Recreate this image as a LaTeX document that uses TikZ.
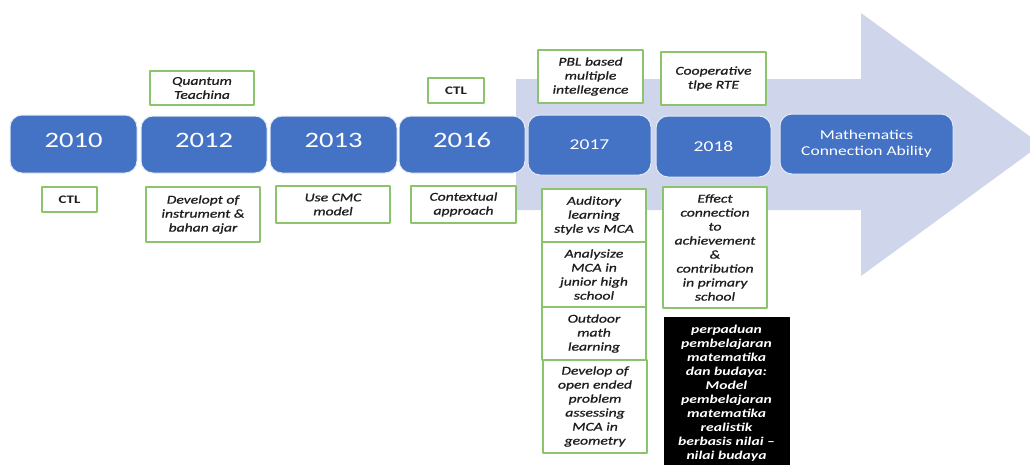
\documentclass[tikz,border=0pt]{standalone}
\usepackage{fontspec}
\setmainfont{Carlito}[FakeStretch=1.3]
\newfontfamily\notefont{Carlito}[FakeStretch=1.3, FakeBold=0.9]
\usepackage{xcolor}
\usetikzlibrary{calc}

\definecolor{yearblue}{RGB}{68,114,196}
\definecolor{arrowgrey}{RGB}{207,213,234}
\definecolor{notegreen}{RGB}{140,196,110}
\definecolor{notetext}{RGB}{30,30,30}

\begin{document}
\begin{tikzpicture}[x=1pt, y=-1pt, line join=round,
	yearbox/.style={fill=yearblue, draw=white!85!yearblue, line width=1pt, rounded corners=12pt,
		text=white, align=center, inner sep=0pt},
	bigyear/.style={yearbox, font=\fontsize{22}{24}\selectfont, text depth=8pt},
	notebox/.style={fill=white, draw=notegreen, line width=1.4pt, align=center, inner sep=0pt,
		text=notetext, font=\notefont\itshape\fontsize{12}{14}\selectfont},
	darkbox/.style={fill=black, draw=black, align=center, inner sep=0pt,
		text=white, font=\bfseries\itshape\fontsize{12}{14}\selectfont}]
	\useasboundingbox (0,0) rectangle (1030,464);
	
	% big arrow behind the years
	\coordinate (P1) at (516,79);
	\coordinate (P2) at (861,79);
	\coordinate (P3) at (861,13);
	\coordinate (P4) at (1041,144.5);
	\coordinate (P5) at (861,276);
	\coordinate (P6) at (861,210);
	\coordinate (P7) at (516,210);
	\fill[arrowgrey] (P1)--(P2)--(P3)--(P4)--(P5)--(P6)--(P7)--cycle;
	
	% years
	\node[bigyear, minimum width=127pt, minimum height=58pt] (y10) at (73.5,144) {2010};
	\node[bigyear, minimum width=126pt, minimum height=57pt] (y12) at (204,144.5) {2012};
	\node[bigyear, minimum width=127pt, minimum height=57pt] (y13) at (333.5,144.5) {2013};
	\node[bigyear, minimum width=126pt, minimum height=57pt] (y16) at (462,144.5) {2016};
	\node[yearbox, minimum width=123pt, minimum height=60pt, font=\fontsize{15}{17}\selectfont] (y17) at (589.5,145) {2017};
	\node[yearbox, minimum width=115pt, minimum height=61pt, font=\fontsize{15}{17}\selectfont] (y18) at (713.5,146.5) {2018};
	\node[yearbox, minimum width=173pt, minimum height=60pt, font=\fontsize{13.5}{15.5}\selectfont] (mca) at (866.5,144) {Mathematics\\Connection Ability};
	
	% notes above
	\node[notebox, minimum width=104pt, minimum height=34pt] (quantum) at (202,88) {Quantum\\Teachina};
	\node[notebox, minimum width=56pt, minimum height=25pt, font=\bfseries\fontsize{11.5}{13}\selectfont] (ctlB) at (456,90.5) {CTL};
	\node[notebox, minimum width=105pt, minimum height=53pt] (pbl) at (590.5,76.5) {PBL based\\multiple\\intellegence};
	\node[notebox, minimum width=105pt, minimum height=53pt] (coop) at (713.5,78.5) {Cooperative\\tlpe RTE};
	
	% notes below
	\node[notebox, minimum width=55pt, minimum height=25pt, font=\bfseries\fontsize{11.5}{13}\selectfont] (ctlA) at (69.5,199.5) {CTL};
	\node[notebox, minimum width=114pt, minimum height=55pt] (instr) at (203,214.5) {Developt of\\instrument \&\\bahan ajar};
	\node[notebox, minimum width=114pt, minimum height=37pt] (cmc) at (333,204.5) {Use CMC\\model};
	\node[notebox, minimum width=105pt, minimum height=37pt] (ctx) at (463.5,204.5) {Contextual\\approach};
	\node[notebox, minimum width=104pt, minimum height=53pt] (aud) at (594,215.5) {Auditory\\learning\\style vs MCA};
	\node[notebox, minimum width=104pt, minimum height=65pt] (ana) at (594,274.5) {Analysize\\MCA in\\junior high\\school};
	\node[notebox, minimum width=104pt, minimum height=53pt] (outd) at (594,333.5) {Outdoor\\math\\learning};
	\node[notebox, minimum width=104pt, minimum height=93pt] (open) at (595,406.5) {Develop of\\open ended\\problem\\assessing\\MCA in\\geometry};
	\node[notebox, minimum width=104pt, minimum height=121pt] (eff) at (715,247.5) {Effect\\connection\\to\\achievement\\\&\\contribution\\in primary\\school};
	\node[darkbox, minimum width=125pt, minimum height=153pt] (budaya) at (726.5,393.5) {perpaduan\\pembelajaran\\matematika\\dan budaya:\\Model\\pembelajaran\\matematika\\realistik\\berbasis nilai --\\nilai budaya};
\end{tikzpicture}
\end{document}
